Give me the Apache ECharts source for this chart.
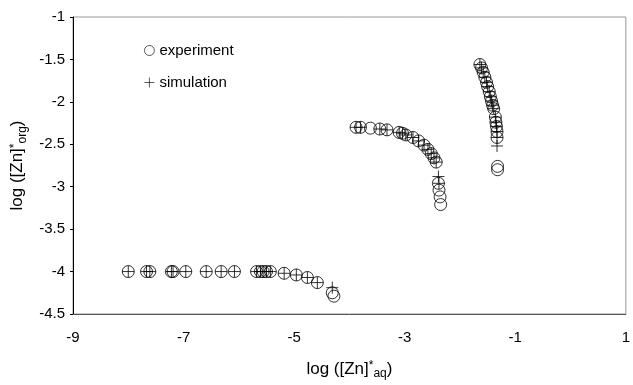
<!DOCTYPE html>
<html><head><meta charset="utf-8">
<script src="https://cdn.jsdelivr.net/npm/echarts@6/dist/echarts.min.js"></script>
<style>html,body{margin:0;padding:0;background:#fff}#c{width:633px;height:385px}</style>
</head><body><div id="c"></div>
<script>
// experiment (x = log[Zn]*aq, y = log[Zn]*org)
const expX = [-8.00,-7.67,-7.61,-7.22,-7.19,-6.96,-6.59,-6.32,-6.08,-5.68,-5.61,-5.56,-5.50,-5.43,-5.18,-4.96,-4.76,-4.58,-4.31,-4.28,
  -3.88,-3.80,-3.62,-3.45,-3.32,-3.10,-3.04,-2.98,-2.85,-2.75,-2.65,-2.58,-2.52,-2.47,-2.43,-2.39,-2.38,-2.36,-2.35,
  -1.64,-1.61,-1.58,-1.55,-1.52,-1.50,-1.47,-1.45,-1.43,-1.41,-1.39,-1.36,-1.35,-1.34,-1.33,-1.33,-1.32,-1.32];
const expY = [-4.00,-4.00,-4.00,-4.00,-4.00,-4.00,-4.00,-4.00,-4.00,-4.00,-4.00,-4.00,-4.00,-4.00,-4.02,-4.04,-4.07,-4.13,-4.25,-4.29,
  -2.30,-2.30,-2.31,-2.32,-2.33,-2.36,-2.37,-2.39,-2.42,-2.46,-2.51,-2.56,-2.61,-2.66,-2.71,-2.96,-3.04,-3.12,-3.21,
  -1.56,-1.60,-1.65,-1.71,-1.77,-1.82,-1.88,-1.94,-1.99,-2.04,-2.08,-2.18,-2.24,-2.29,-2.35,-2.42,-2.76,-2.80];
// simulation
const simX = [-8.00,-7.67,-7.61,-7.22,-7.19,-6.96,-6.59,-6.32,-6.08,-5.68,-5.61,-5.56,-5.50,-5.43,-5.18,-4.96,-4.76,-4.58,-4.31,
  -3.88,-3.80,-3.45,-3.32,-3.10,-3.04,-2.98,-2.85,-2.75,-2.65,-2.58,-2.52,-2.47,-2.43,-2.39,-2.38,
  -1.64,-1.61,-1.58,-1.55,-1.52,-1.50,-1.47,-1.45,-1.43,-1.41,-1.39,-1.36,-1.35,-1.34,-1.33,-1.33,-1.33];
const simY = [-4.00,-4.00,-4.00,-4.00,-4.00,-4.00,-4.00,-4.00,-4.00,-4.00,-4.00,-4.00,-4.00,-4.00,-4.02,-4.04,-4.07,-4.13,-4.19,
  -2.30,-2.30,-2.32,-2.33,-2.36,-2.37,-2.39,-2.42,-2.46,-2.51,-2.56,-2.61,-2.66,-2.71,-2.88,-2.96,
  -1.56,-1.60,-1.65,-1.71,-1.77,-1.82,-1.88,-1.94,-1.99,-2.04,-2.08,-2.18,-2.24,-2.29,-2.35,-2.42,-2.52];
const seriesNames = ['experiment','simulation'];
const xTicks = {min:-9, max:1, interval:2};
const yTicks = {min:-4.5, max:-1, interval:0.5};

const zip = (a,b) => a.map((v,i)=>[v,b[i]]);
const font = 'Liberation Sans, Arial, sans-serif';
const chart = echarts.init(document.getElementById('c'), null, {renderer:'canvas'});
const plusPath = 'path://M0,5 L10,5 M5,0 L5,10';
const circlePath = 'path://M10,5 A5,5 0 1 1 0,5 A5,5 0 1 1 10,5 Z';
const titleRich = () => ({
  a:{fontFamily:font,fontSize:17,color:'#000'},
  sup:{fontFamily:font,fontSize:12,color:'#000',padding:[0,0,7,0]},
  sub:{fontFamily:font,fontSize:12,color:'#000',padding:[9,0,0,0]}
});
chart.setOption({
  animation:false,
  backgroundColor:'#fff',
  grid:{left:73,right:5,top:17,bottom:68,show:true,borderColor:'#999',borderWidth:1},
  legend:{
    orient:'vertical', left:139, top:38, itemGap:17, itemWidth:10, itemHeight:10,
    itemStyle:{borderWidth:0.8},
    textStyle:{fontFamily:font,fontSize:15,color:'#000'},
    data:[
      {name:seriesNames[0], icon:circlePath},
      {name:seriesNames[1], icon:plusPath}
    ]
  },
  xAxis:{
    type:'value', min:xTicks.min, max:xTicks.max, interval:xTicks.interval,
    axisLine:{onZero:false,lineStyle:{color:'#555',width:1}},
    axisTick:{show:false}, splitLine:{show:false},
    axisLabel:{color:'#000',fontFamily:font,fontSize:15,margin:16},
    name:'{a|log ([Zn]}{sup|*}{sub|aq}{a|)}', nameLocation:'middle', nameGap:45,
    nameTextStyle:{rich:titleRich()}
  },
  yAxis:{
    type:'value', min:yTicks.min, max:yTicks.max, interval:yTicks.interval,
    axisLine:{onZero:false,lineStyle:{color:'#000',width:1}},
    axisTick:{show:true,inside:false,length:3,lineStyle:{color:'#000'}}, splitLine:{show:false},
    axisLabel:{color:'#000',fontFamily:font,fontSize:15,margin:8},
    name:'{a|log ([Zn]}{sup|*}{sub|org}{a|)}', nameLocation:'middle', nameGap:44, nameRotate:90,
    nameTextStyle:{rich:titleRich()}
  },
  series:[
    {name:seriesNames[0], type:'scatter', symbol:circlePath, symbolSize:12,
     itemStyle:{color:'rgba(0,0,0,0)',borderColor:'#000',borderWidth:1},
     data:zip(expX,expY)},
    {name:seriesNames[1], type:'scatter', symbol:plusPath, symbolSize:12,
     itemStyle:{color:'rgba(0,0,0,0)',borderColor:'#000',borderWidth:1},
     data:zip(simX,simY)}
  ]
});
</script></body></html>
